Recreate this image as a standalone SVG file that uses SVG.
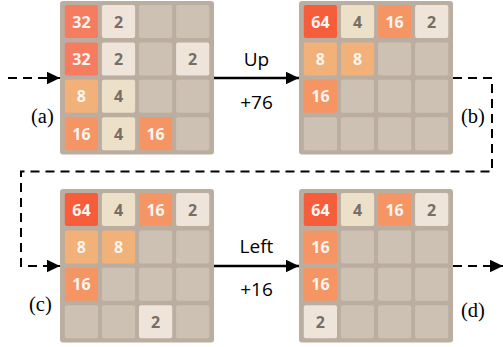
<svg xmlns="http://www.w3.org/2000/svg" width="503" height="347" viewBox="0 0 503 347">
<style>
.board{fill:#bbada0}
.e{fill:#cdc1b4}
.t2{fill:#eee4da}
.t4{fill:#ede0c8}
.t8{fill:#f2b179}
.t16{fill:#f59563}
.t32{fill:#f67c5f}
.t64{fill:#f65e3b}
.n{font-family:"Open Sans","DejaVu Sans",sans-serif;font-weight:bold;font-size:16px;text-anchor:middle}
.d{fill:#776e65}
.w{fill:#f9f6f2}
.lbl{font-family:"Open Sans","Liberation Sans",sans-serif;font-size:19px;text-anchor:middle;fill:#000}
.cap{font-family:"Liberation Serif","Times New Roman",serif;font-size:20.5px;fill:#000}
.solid{stroke:#000;stroke-width:2.3;fill:none}
.dash{stroke:#000;stroke-width:2;fill:none;stroke-dasharray:9 6}
</style>
<defs>
<marker id="ah" markerUnits="userSpaceOnUse" markerWidth="14" markerHeight="13" refX="13" refY="6.25" orient="auto">
<path d="M0,0 L13,6.25 L0,12.5 z" fill="#000"/>
</marker>
</defs>

<g id="board-a" transform="translate(60,1)">
<rect class="board" width="154" height="153.5" rx="3"/>
<rect class="t32" x="4.8" y="4" width="33.2" height="33" rx="2"/><text class="n w" x="21.4" y="26.6">32</text>
<rect class="t2" x="41.9" y="4" width="33.2" height="33" rx="2"/><text class="n d" x="58.5" y="26.6">2</text>
<rect class="e" x="79" y="4" width="33.2" height="33" rx="2"/>
<rect class="e" x="116.1" y="4" width="33.2" height="33" rx="2"/>
<rect class="t32" x="4.8" y="41.4" width="33.2" height="33" rx="2"/><text class="n w" x="21.4" y="64">32</text>
<rect class="t2" x="41.9" y="41.4" width="33.2" height="33" rx="2"/><text class="n d" x="58.5" y="64">2</text>
<rect class="e" x="79" y="41.4" width="33.2" height="33" rx="2"/>
<rect class="t2" x="116.1" y="41.4" width="33.2" height="33" rx="2"/><text class="n d" x="132.7" y="64">2</text>
<rect class="t8" x="4.8" y="78.8" width="33.2" height="33" rx="2"/><text class="n w" x="21.4" y="101.4">8</text>
<rect class="t4" x="41.9" y="78.8" width="33.2" height="33" rx="2"/><text class="n d" x="58.5" y="101.4">4</text>
<rect class="e" x="79" y="78.8" width="33.2" height="33" rx="2"/>
<rect class="e" x="116.1" y="78.8" width="33.2" height="33" rx="2"/>
<rect class="t16" x="4.8" y="116.2" width="33.2" height="33" rx="2"/><text class="n w" x="21.4" y="138.8">16</text>
<rect class="t4" x="41.9" y="116.2" width="33.2" height="33" rx="2"/><text class="n d" x="58.5" y="138.8">4</text>
<rect class="t16" x="79" y="116.2" width="33.2" height="33" rx="2"/><text class="n w" x="95.6" y="138.8">16</text>
<rect class="e" x="116.1" y="116.2" width="33.2" height="33" rx="2"/>
</g>

<g id="board-b" transform="translate(299,1)">
<rect class="board" width="154" height="153.5" rx="3"/>
<rect class="t64" x="4.8" y="4" width="33.2" height="33" rx="2"/><text class="n w" x="21.4" y="26.6">64</text>
<rect class="t4" x="41.9" y="4" width="33.2" height="33" rx="2"/><text class="n d" x="58.5" y="26.6">4</text>
<rect class="t16" x="79" y="4" width="33.2" height="33" rx="2"/><text class="n w" x="95.6" y="26.6">16</text>
<rect class="t2" x="116.1" y="4" width="33.2" height="33" rx="2"/><text class="n d" x="132.7" y="26.6">2</text>
<rect class="t8" x="4.8" y="41.4" width="33.2" height="33" rx="2"/><text class="n w" x="21.4" y="64">8</text>
<rect class="t8" x="41.9" y="41.4" width="33.2" height="33" rx="2"/><text class="n w" x="58.5" y="64">8</text>
<rect class="e" x="79" y="41.4" width="33.2" height="33" rx="2"/>
<rect class="e" x="116.1" y="41.4" width="33.2" height="33" rx="2"/>
<rect class="t16" x="4.8" y="78.8" width="33.2" height="33" rx="2"/><text class="n w" x="21.4" y="101.4">16</text>
<rect class="e" x="41.9" y="78.8" width="33.2" height="33" rx="2"/>
<rect class="e" x="79" y="78.8" width="33.2" height="33" rx="2"/>
<rect class="e" x="116.1" y="78.8" width="33.2" height="33" rx="2"/>
<rect class="e" x="4.8" y="116.2" width="33.2" height="33" rx="2"/>
<rect class="e" x="41.9" y="116.2" width="33.2" height="33" rx="2"/>
<rect class="e" x="79" y="116.2" width="33.2" height="33" rx="2"/>
<rect class="e" x="116.1" y="116.2" width="33.2" height="33" rx="2"/>
</g>

<g id="board-c" transform="translate(60,189)">
<rect class="board" width="154" height="153.5" rx="3"/>
<rect class="t64" x="4.8" y="4" width="33.2" height="33" rx="2"/><text class="n w" x="21.4" y="26.6">64</text>
<rect class="t4" x="41.9" y="4" width="33.2" height="33" rx="2"/><text class="n d" x="58.5" y="26.6">4</text>
<rect class="t16" x="79" y="4" width="33.2" height="33" rx="2"/><text class="n w" x="95.6" y="26.6">16</text>
<rect class="t2" x="116.1" y="4" width="33.2" height="33" rx="2"/><text class="n d" x="132.7" y="26.6">2</text>
<rect class="t8" x="4.8" y="41.4" width="33.2" height="33" rx="2"/><text class="n w" x="21.4" y="64">8</text>
<rect class="t8" x="41.9" y="41.4" width="33.2" height="33" rx="2"/><text class="n w" x="58.5" y="64">8</text>
<rect class="e" x="79" y="41.4" width="33.2" height="33" rx="2"/>
<rect class="e" x="116.1" y="41.4" width="33.2" height="33" rx="2"/>
<rect class="t16" x="4.8" y="78.8" width="33.2" height="33" rx="2"/><text class="n w" x="21.4" y="101.4">16</text>
<rect class="e" x="41.9" y="78.8" width="33.2" height="33" rx="2"/>
<rect class="e" x="79" y="78.8" width="33.2" height="33" rx="2"/>
<rect class="e" x="116.1" y="78.8" width="33.2" height="33" rx="2"/>
<rect class="e" x="4.8" y="116.2" width="33.2" height="33" rx="2"/>
<rect class="e" x="41.9" y="116.2" width="33.2" height="33" rx="2"/>
<rect class="t2" x="79" y="116.2" width="33.2" height="33" rx="2"/><text class="n d" x="95.6" y="138.8">2</text>
<rect class="e" x="116.1" y="116.2" width="33.2" height="33" rx="2"/>
</g>

<g id="board-d" transform="translate(299,189)">
<rect class="board" width="154" height="153.5" rx="3"/>
<rect class="t64" x="4.8" y="4" width="33.2" height="33" rx="2"/><text class="n w" x="21.4" y="26.6">64</text>
<rect class="t4" x="41.9" y="4" width="33.2" height="33" rx="2"/><text class="n d" x="58.5" y="26.6">4</text>
<rect class="t16" x="79" y="4" width="33.2" height="33" rx="2"/><text class="n w" x="95.6" y="26.6">16</text>
<rect class="t2" x="116.1" y="4" width="33.2" height="33" rx="2"/><text class="n d" x="132.7" y="26.6">2</text>
<rect class="t16" x="4.8" y="41.4" width="33.2" height="33" rx="2"/><text class="n w" x="21.4" y="64">16</text>
<rect class="e" x="41.9" y="41.4" width="33.2" height="33" rx="2"/>
<rect class="e" x="79" y="41.4" width="33.2" height="33" rx="2"/>
<rect class="e" x="116.1" y="41.4" width="33.2" height="33" rx="2"/>
<rect class="t16" x="4.8" y="78.8" width="33.2" height="33" rx="2"/><text class="n w" x="21.4" y="101.4">16</text>
<rect class="e" x="41.9" y="78.8" width="33.2" height="33" rx="2"/>
<rect class="e" x="79" y="78.8" width="33.2" height="33" rx="2"/>
<rect class="e" x="116.1" y="78.8" width="33.2" height="33" rx="2"/>
<rect class="t2" x="4.8" y="116.2" width="33.2" height="33" rx="2"/><text class="n d" x="21.4" y="138.8">2</text>
<rect class="e" x="41.9" y="116.2" width="33.2" height="33" rx="2"/>
<rect class="e" x="79" y="116.2" width="33.2" height="33" rx="2"/>
<rect class="e" x="116.1" y="116.2" width="33.2" height="33" rx="2"/>
</g>

<g id="connectors">
<path class="dash" d="M8,78 H60" marker-end="url(#ah)"/>
<path class="solid" d="M214,78 H299" marker-end="url(#ah)"/>
<path class="dash" d="M453,78 H492 V171.5 H21 V266 H60" marker-end="url(#ah)"/>
<path class="solid" d="M214,266 H299" marker-end="url(#ah)"/>
<path class="dash" d="M453,266 H503" marker-end="url(#ah)"/>
</g>

<g id="labels">
<text class="lbl" x="256.5" y="65.5">Up</text>
<text class="lbl" x="256.5" y="109">+76</text>
<text class="lbl" x="256.5" y="252.5">Left</text>
<text class="lbl" x="256.5" y="296">+16</text>
<text class="cap" x="31" y="122.5">(a)</text>
<text class="cap" x="461" y="122.5">(b)</text>
<text class="cap" x="29" y="310.5">(c)</text>
<text class="cap" x="461" y="317">(d)</text>
</g>
</svg>
